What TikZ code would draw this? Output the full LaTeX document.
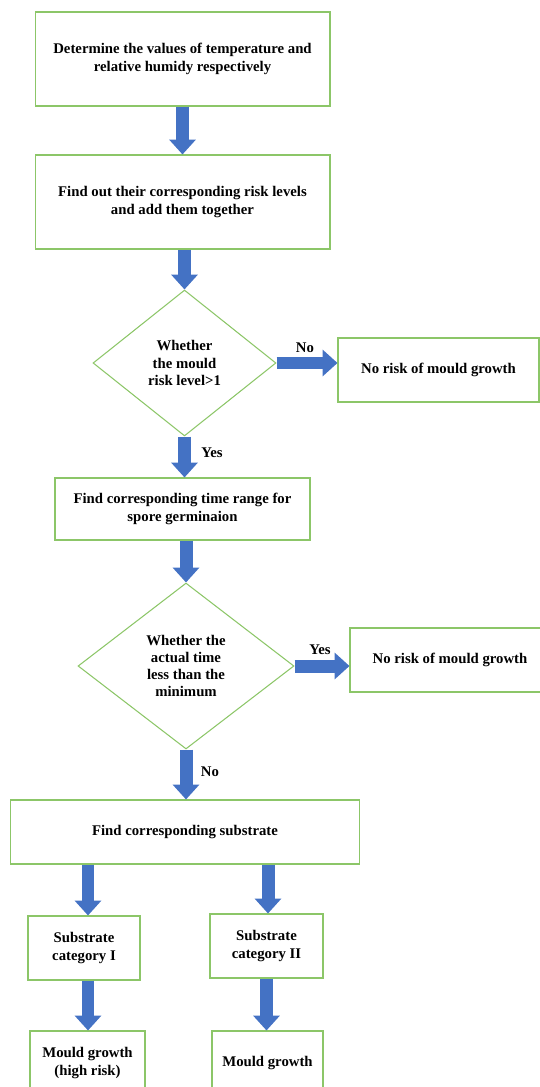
\documentclass[tikz,border=0pt]{standalone}
\usepackage{fontspec}
\setmainfont{Liberation Serif}
\usetikzlibrary{shapes.geometric,arrows.meta}
\definecolor{boxgreen}{RGB}{140,198,104}
\definecolor{arrowblue}{RGB}{68,114,196}

\begin{document}
\begin{tikzpicture}[x=0.02cm,y=-0.02cm,
    every node/.style={font=\bfseries\fontsize{8.4}{9.8}\selectfont,align=center},
    stepbox/.style={draw=boxgreen,line width=0.6pt,inner sep=0pt},
    decision/.style={diamond,draw=boxgreen,line width=0.6pt,inner sep=0pt},
    flow/.style={arrowblue,line width=0.26cm,-{Triangle[length=0pt 1.15,width=0pt 2]}}]
    \clip (0,0) rectangle (540,1087);

    \node[stepbox,minimum width=5.9cm,minimum height=1.88cm] (values) at (182.5,59) {Determine the values of temperature and\\ relative humidy respectively};
    \node[stepbox,minimum width=5.9cm,minimum height=1.88cm] (levels) at (182.5,202) {Find out their corresponding risk levels\\ and add them together};
    \node[decision,minimum width=3.66cm,minimum height=2.92cm] (check1) at (184.5,363) {Whether\\ the mould\\ risk level>1};
    \node[stepbox,minimum width=4.02cm,minimum height=1.28cm] (norisk1) at (438.5,370) {No risk of mould growth};
    \node[stepbox,minimum width=5.1cm,minimum height=1.24cm] (timerange) at (182.5,509) {Find corresponding time range for\\ spore germinaion};
    \node[decision,minimum width=4.32cm,minimum height=3.32cm] (check2) at (186,666) {Whether the\\ actual time\\ less than the\\ minimum};
    \node[stepbox,minimum width=4cm,minimum height=1.28cm] (norisk2) at (450,660) {No risk of mould growth};
    \node[stepbox,minimum width=7cm,minimum height=1.28cm] (substrate) at (185,832) {Find corresponding substrate};

    \node[stepbox,minimum width=2.24cm,minimum height=1.28cm] (catone) at (84,948) {Substrate\\ category I};
    \node[stepbox,minimum width=2.26cm,minimum height=1.28cm] (cattwo) at (266.5,946) {Substrate\\ category II};
    \node[stepbox,minimum width=2.3cm,minimum height=1.28cm] (growthhigh) at (87.5,1063) {Mould growth\\ (high risk)};
    \node[stepbox,minimum width=2.22cm,minimum height=1.28cm] (growth) at (267.5,1063) {Mould growth};

    % answers
    \node (labno1) at (305,348) {No};
    \node (labyes1) at (212,453) {Yes};
    \node (labyes2) at (320,650) {Yes};
    \node (labno2) at (210,772) {No};

    \draw[flow] (values) -- (levels);
    \draw[flow] (check1.north |- levels.south) -- (check1.north);
    \draw[flow] (check1.east) -- (check1.east -| norisk1.west);
    \draw[flow] (check1.south) -- (check1.south |- timerange.north);
    \draw[flow] (check2.north |- timerange.south) -- (check2.north);
    \draw[flow] (check2.east) -- (check2.east -| norisk2.west);
    \draw[flow] (check2.south) -- (check2.south |- substrate.north);
    \draw[flow] ([xshift=0.08cm]catone.north |- substrate.south) -- ([xshift=0.08cm]catone.north);
    \draw[flow] ([xshift=0.03cm]cattwo.north |- substrate.south) -- ([xshift=0.03cm]cattwo.north);
    \draw[flow] ([xshift=0.08cm]catone.south) -- ([xshift=0.08cm]catone.south |- growthhigh.north);
    \draw[flow] (cattwo.south) -- (cattwo.south |- growth.north);
\end{tikzpicture}
\end{document}
